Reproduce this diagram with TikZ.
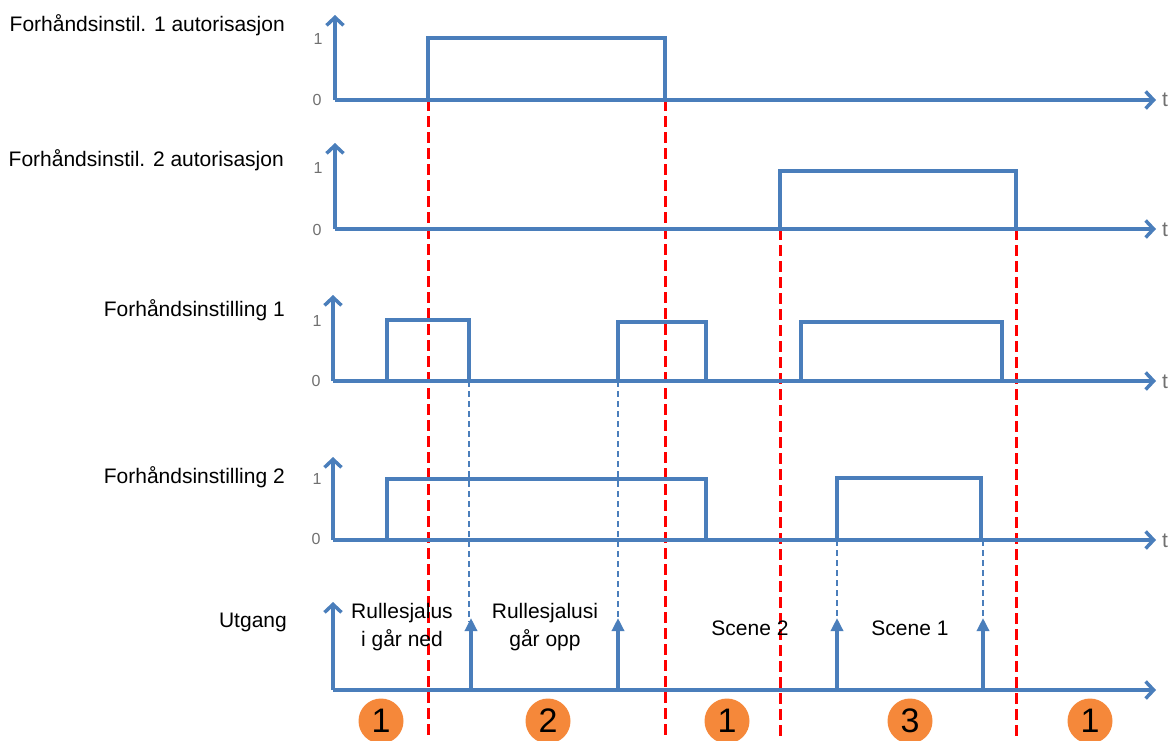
\documentclass[tikz,border=0pt]{standalone}
\usepackage{fontspec}
\setmainfont{Liberation Sans}
\usetikzlibrary{arrows.meta}
\definecolor{sigblue}{HTML}{4A7EBB}
\definecolor{gridred}{HTML}{FF0000}
\definecolor{badgeor}{HTML}{F5883A}
\definecolor{ticgray}{HTML}{707070}
\tikzset{
  sig/.style={sigblue, line width=4, line join=miter},
  axis/.style={sigblue, line width=3.5, -{Straight Barb[length=8,width=17,line width=3.5]}},
  outarr/.style={sigblue, line width=4, -{Triangle[length=13,width=12]}},
  trig/.style={sigblue, line width=2, dash pattern=on 6 off 4},
  redline/.style={gridred, line width=3, dash pattern=on 11 off 5},
  rowlabel/.style={font=\fontsize{21}{24}\selectfont, anchor=east, inner sep=0},
  tick/.style={font=\fontsize{16}{18}\selectfont, text=ticgray, inner sep=0},
  tlabel/.style={font=\fontsize{21}{24}\selectfont, text=ticgray, inner sep=0},
  note/.style={font=\fontsize{21}{28}\selectfont, align=center, inner sep=0},
  badge/.style={circle, fill=badgeor, minimum size=45, inner sep=0, font=\fontsize{34}{36}\selectfont}
}
\begin{document}
\begin{tikzpicture}[x=1pt,y=-1pt]
\useasboundingbox (0,0) rectangle (1169,740);
% red dashed lines (behind)
\draw[redline] (428,100) -- (428,740);
\draw[redline] (665,100) -- (665,740);
\draw[redline] (780,229) -- (780,740);
\draw[redline] (1016,229) -- (1016,740);
% trigger dashed lines
\draw[trig] (469,381) -- (469,622);
\draw[trig] (618,381) -- (618,622);
\draw[trig] (837,540) -- (837,622);
\draw[trig] (983,540) -- (983,622);

% Row 1
\node[rowlabel] (l1) at (285,25) {Forhåndsinstil. 1 autorisasjon};
\draw[axis] (335,100) -- (335,15);
\draw[axis] (335,100) -- (1156,100);
\node[tick] (o1) at (318,39) {1};
\node[tick] (z1) at (317,100) {0};
\node[tlabel] (t1) at (1165,100) {t};
\draw[sig] (335,100) -- (428,100) -- (428,38) -- (665,38) -- (665,100);

% Row 2
\node[rowlabel] (l2) at (284,160) {Forhåndsinstil. 2 autorisasjon};
\draw[axis] (335,229) -- (335,143);
\draw[axis] (335,229) -- (1156,229);
\node[tick] (o2) at (318,168) {1};
\node[tick] (z2) at (317,230) {0};
\node[tlabel] (t2) at (1165,230) {t};
\draw[sig] (780,229) -- (780,171) -- (1016,171) -- (1016,229);

% Row 3
\node[rowlabel] (l3) at (285,310) {Forhåndsinstilling 1};
\draw[axis] (333,381) -- (333,295);
\draw[axis] (333,381) -- (1156,381);
\node[tick] (o3) at (317,321) {1};
\node[tick] (z3) at (316,381) {0};
\node[tlabel] (t3) at (1165,382) {t};
\draw[sig] (387,381) -- (387,320) -- (469,320) -- (469,381);
\draw[sig] (618,381) -- (618,322) -- (706,322) -- (706,381);
\draw[sig] (801,381) -- (801,322) -- (1002,322) -- (1002,381);

% Row 4
\node[rowlabel] (l4) at (285,477) {Forhåndsinstilling 2};
\draw[axis] (333,540) -- (333,457);
\draw[axis] (333,540) -- (1156,540);
\node[tick] (o4) at (317,479) {1};
\node[tick] (z4) at (316,539) {0};
\node[tlabel] (t4) at (1165,541) {t};
\draw[sig] (333,540) -- (387,540) -- (387,479) -- (706,479) -- (706,540) -- (837,540);
\draw[sig] (837,540) -- (837,478) -- (981,478) -- (981,540);

% Row 5
\node[rowlabel] (l5) at (287,622) {Utgang};
\draw[axis] (333,690) -- (333,602);
\draw[axis] (333,690) -- (1156,690);
\draw[outarr] (471,690) -- (471,618);
\draw[outarr] (618,690) -- (618,618);
\draw[outarr] (837,690) -- (837,618);
\draw[outarr] (983,690) -- (983,618);
\node[note] (n1) at (402,627) {Rullesjalus\\i går ned};
\node[note] (n2) at (545,627) {Rullesjalusi\\går opp};
\node[note] (n3) at (750,628) {Scene 2};
\node[note] (n4) at (910,628) {Scene 1};

% badges
\node[badge] (b1) at (381,721) {1};
\node[badge] (b2) at (548,721) {2};
\node[badge] (b3) at (727,721) {1};
\node[badge] (b4) at (910,721) {3};
\node[badge] (b5) at (1090,721) {1};
\end{tikzpicture}
\end{document}
